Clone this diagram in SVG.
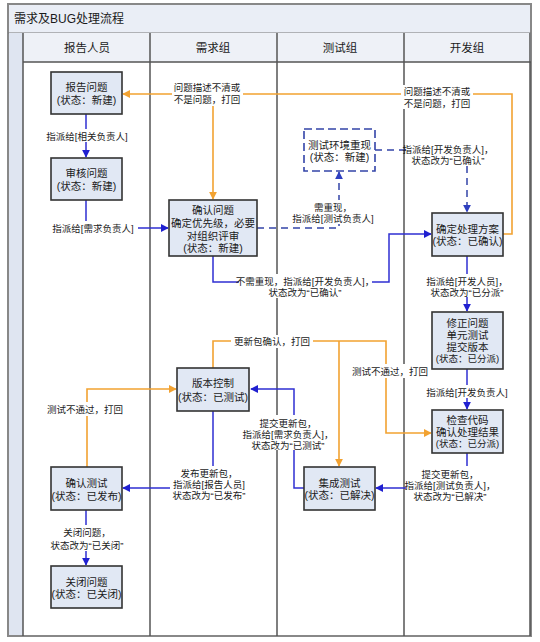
<svg xmlns="http://www.w3.org/2000/svg" width="540" height="642" viewBox="0 0 540 642">
<style>
.t{font-family:"Liberation Sans","Noto Sans CJK SC",sans-serif;font-size:10.5px;fill:#1a1a1a;text-anchor:middle}
.s{font-size:9.5px}
.h{font-size:11.5px}
.box{fill:#e1e8f4;stroke:#333;stroke-width:1.6}
.dbox{fill:#fff;stroke:#3344a8;stroke-width:1.6;stroke-dasharray:8,4}
.lane{stroke:#555;stroke-width:1.5;fill:none}
.b{stroke:#2f2fd2;stroke-width:1.5;fill:none}
.o{stroke:#f2a231;stroke-width:1.6;fill:none}
.d{stroke:#3344a8;stroke-width:1.5;fill:none;stroke-dasharray:7,5}
.bg{fill:#fff}
</style>
<defs>
<marker id="ab" viewBox="0 0 10 10" refX="9" refY="5" markerWidth="8" markerHeight="8" markerUnits="userSpaceOnUse" orient="auto"><path d="M0,0 L10,5 L0,10 z" fill="#2020d0"/></marker>
<marker id="ao" viewBox="0 0 10 10" refX="9" refY="5" markerWidth="8" markerHeight="8" markerUnits="userSpaceOnUse" orient="auto"><path d="M0,0 L10,5 L0,10 z" fill="#f2a231"/></marker>
<marker id="ad" viewBox="0 0 10 10" refX="9" refY="5" markerWidth="8" markerHeight="8" markerUnits="userSpaceOnUse" orient="auto"><path d="M0,0 L10,5 L0,10 z" fill="#2e3fc0"/></marker>
</defs>
<rect width="540" height="642" fill="#fff"/>
<g id="frame">
<rect x="8" y="4" width="523" height="632" fill="#fff" stroke="#888" stroke-width="2"/>
<rect x="9" y="5" width="521" height="28" fill="#eaeef6"/>
<line x1="8" y1="33" x2="531" y2="33" stroke="#777" stroke-width="1.2"/>
<rect x="23" y="33" width="508" height="29" fill="#eef1f7"/>
<rect x="9" y="33" width="14" height="602" fill="#dfe5f1"/>
<line x1="23" y1="33" x2="23" y2="636" class="lane"/>
<line x1="23" y1="62" x2="531" y2="62" class="lane"/>
<line x1="150" y1="33" x2="150" y2="636" class="lane"/>
<line x1="277" y1="33" x2="277" y2="636" class="lane"/>
<line x1="404" y1="33" x2="404" y2="636" class="lane"/>
<line x1="530" y1="33" x2="530" y2="636" class="lane"/>
<text x="14" y="23" class="t" style="text-anchor:start;font-size:12px">需求及BUG处理流程</text>
<text x="87" y="52" class="t h">报告人员</text>
<text x="213" y="52" class="t h">需求组</text>
<text x="340" y="52" class="t h">测试组</text>
<text x="467" y="52" class="t h">开发组</text>
</g>
<g id="connectors">
<path class="b" d="M86,114 V157" marker-end="url(#ab)"/>
<path class="b" d="M86,200 V228 H168" marker-end="url(#ab)"/>
<path class="o" d="M503,234 H512 V94 H123" marker-end="url(#ao)"/>
<path class="o" d="M213,94 V199" marker-end="url(#ao)"/>
<path class="d" d="M257,228 H339 V172" marker-end="url(#ad)"/>
<path class="d" d="M375,150 H467 V212" marker-end="url(#ad)"/>
<path class="b" d="M213,256 V282 H389 V234 H431" marker-end="url(#ab)"/>
<path class="b" d="M467,256 V311" marker-end="url(#ab)"/>
<path class="b" d="M467,369 V409" marker-end="url(#ab)"/>
<path class="o" d="M213,368 V341 H386 V433 H431" marker-end="url(#ao)"/>
<path class="o" d="M339,341 V466" marker-end="url(#ao)"/>
<path class="o" d="M87,467 V389 H176" marker-end="url(#ao)"/>
<path class="b" d="M213,411 V488 H123" marker-end="url(#ab)"/>
<path class="b" d="M467,453 V488 H376" marker-end="url(#ab)"/>
<path class="b" d="M304,488 H294 V389 H251" marker-end="url(#ab)"/>
<path class="b" d="M86,510 V565" marker-end="url(#ab)"/>
</g>
<g id="labels">
<rect class="bg" x="44" y="129" width="87" height="13"/>
<text class="t s" x="87" y="139.5">指派给[相关负责人]</text>
<rect class="bg" x="49" y="221" width="89" height="13"/>
<text class="t s" x="93" y="231.5">指派给[需求负责人]</text>
<rect class="bg" x="172" y="81" width="71" height="25"/>
<text class="t s" x="207" y="91">问题描述不清或<tspan x="207" dy="12">不是问题，打回</tspan></text>
<rect class="bg" x="401" y="85" width="72" height="24"/>
<text class="t s" x="437" y="95">问题描述不清或<tspan x="437" dy="11.5">不是问题，打回</tspan></text>
<rect class="bg" x="292" y="200" width="83" height="24"/>
<text class="t s" x="333" y="210.5">需重现，<tspan x="333" dy="11">指派给[测试负责人]</tspan></text>
<rect class="bg" x="406" y="142" width="84" height="23"/>
<text class="t s" x="448" y="152.5">指派给[开发负责人]，<tspan x="448" dy="11">状态改为“已确认”</tspan></text>
<rect class="bg" x="239" y="274" width="133" height="24"/>
<text class="t s" x="305" y="284.5">不需重现，指派给[开发负责人]，<tspan x="305" dy="11">状态改为“已确认”</tspan></text>
<rect class="bg" x="425" y="274" width="85" height="23"/>
<text class="t s" x="467" y="284.5">指派给[开发人员]，<tspan x="467" dy="11">状态改为“已分派”</tspan></text>
<rect class="bg" x="424" y="385" width="87" height="13"/>
<text class="t s" x="467" y="395.5">指派给[开发负责人]</text>
<rect class="bg" x="231" y="335" width="82" height="13"/>
<text class="t s" x="272" y="344.5">更新包确认，打回</text>
<rect class="bg" x="349" y="364" width="81" height="14"/>
<text class="t s" x="390" y="374.5">测试不通过，打回</text>
<rect class="bg" x="44" y="402" width="82" height="14"/>
<text class="t s" x="85" y="412.5">测试不通过，打回</text>
<rect class="bg" x="170" y="466" width="79" height="34"/>
<text class="t s" x="209" y="476.5">发布更新包，<tspan x="209" dy="11">指派给[报告人员]</tspan><tspan x="209" dy="11">状态改为“已发布”</tspan></text>
<rect class="bg" x="245" y="415" width="87" height="35"/>
<text class="t s" x="288" y="426.5">提交更新包，<tspan x="288" dy="11.5">指派给[需求负责人]，</tspan><tspan x="288" dy="11">状态改为“已测试”</tspan></text>
<rect class="bg" x="406" y="466" width="88" height="34"/>
<text class="t s" x="450" y="477.5">提交更新包，<tspan x="450" dy="11">指派给[测试负责人]，</tspan><tspan x="450" dy="11">状态改为“已解决”</tspan></text>
<rect class="bg" x="44" y="525" width="87" height="26"/>
<text class="t s" x="87" y="535.5">关闭问题，<tspan x="87" dy="13.5">状态改为“已关闭”</tspan></text>
</g>
<g id="n-report">
<rect class="box" x="51" y="72" width="71" height="42"/>
<text class="t" x="86.5" y="91">报告问题<tspan x="86.5" dy="13">(状态：新建)</tspan></text>
</g>
<g id="n-review">
<rect class="box" x="51" y="158" width="71" height="42"/>
<text class="t" x="86.5" y="177">审核问题<tspan x="86.5" dy="13">(状态：新建)</tspan></text>
</g>
<g id="n-confirm">
<rect class="box" x="169" y="200" width="88" height="56"/>
<text class="t" x="213" y="214">确认问题<tspan x="213" dy="13">确定优先级，必要</tspan><tspan x="213" dy="13">对组织评审</tspan><tspan x="213" dy="12">(状态：新建)</tspan></text>
</g>
<g id="n-reproduce">
<rect class="dbox" x="304" y="129" width="71" height="42"/>
<text class="t" x="339.5" y="148.5">测试环境重现<tspan x="339.5" dy="12.5">(状态：新建)</tspan></text>
</g>
<g id="n-plan">
<rect class="box" x="432" y="213" width="71" height="43"/>
<text class="t" x="467.5" y="232.5">确定处理方案<tspan x="467.5" dy="12.5">(状态：已确认)</tspan></text>
</g>
<g id="n-fix">
<rect class="box" x="432" y="312" width="71" height="57"/>
<text class="t" x="467.5" y="327">修正问题<tspan x="467.5" dy="12">单元测试</tspan><tspan x="467.5" dy="12">提交版本</tspan><tspan x="467.5" dy="11" style="font-size:9.5px">(状态：已分派)</tspan></text>
</g>
<g id="n-check">
<rect class="box" x="432" y="410" width="71" height="43"/>
<text class="t" x="467.5" y="423.5">检查代码<tspan x="467.5" dy="12">确认处理结果</tspan><tspan x="467.5" dy="11.5" style="font-size:9.5px">(状态：已分派)</tspan></text>
</g>
<g id="n-version">
<rect class="box" x="177" y="368" width="72" height="43"/>
<text class="t" x="213" y="387">版本控制<tspan x="213" dy="14">(状态：已测试)</tspan></text>
</g>
<g id="n-integrate">
<rect class="box" x="304" y="467" width="71" height="43"/>
<text class="t" x="339.5" y="486.5">集成测试<tspan x="339.5" dy="12.5">(状态：已解决)</tspan></text>
</g>
<g id="n-verify">
<rect class="box" x="51" y="467" width="71" height="43"/>
<text class="t" x="86.5" y="486.5">确认测试<tspan x="86.5" dy="13.5">(状态：已发布)</tspan></text>
</g>
<g id="n-close">
<rect class="box" x="51" y="566" width="71" height="42"/>
<text class="t" x="86.5" y="585.5">关闭问题<tspan x="86.5" dy="12.5">(状态：已关闭)</tspan></text>
</g>
</svg>
